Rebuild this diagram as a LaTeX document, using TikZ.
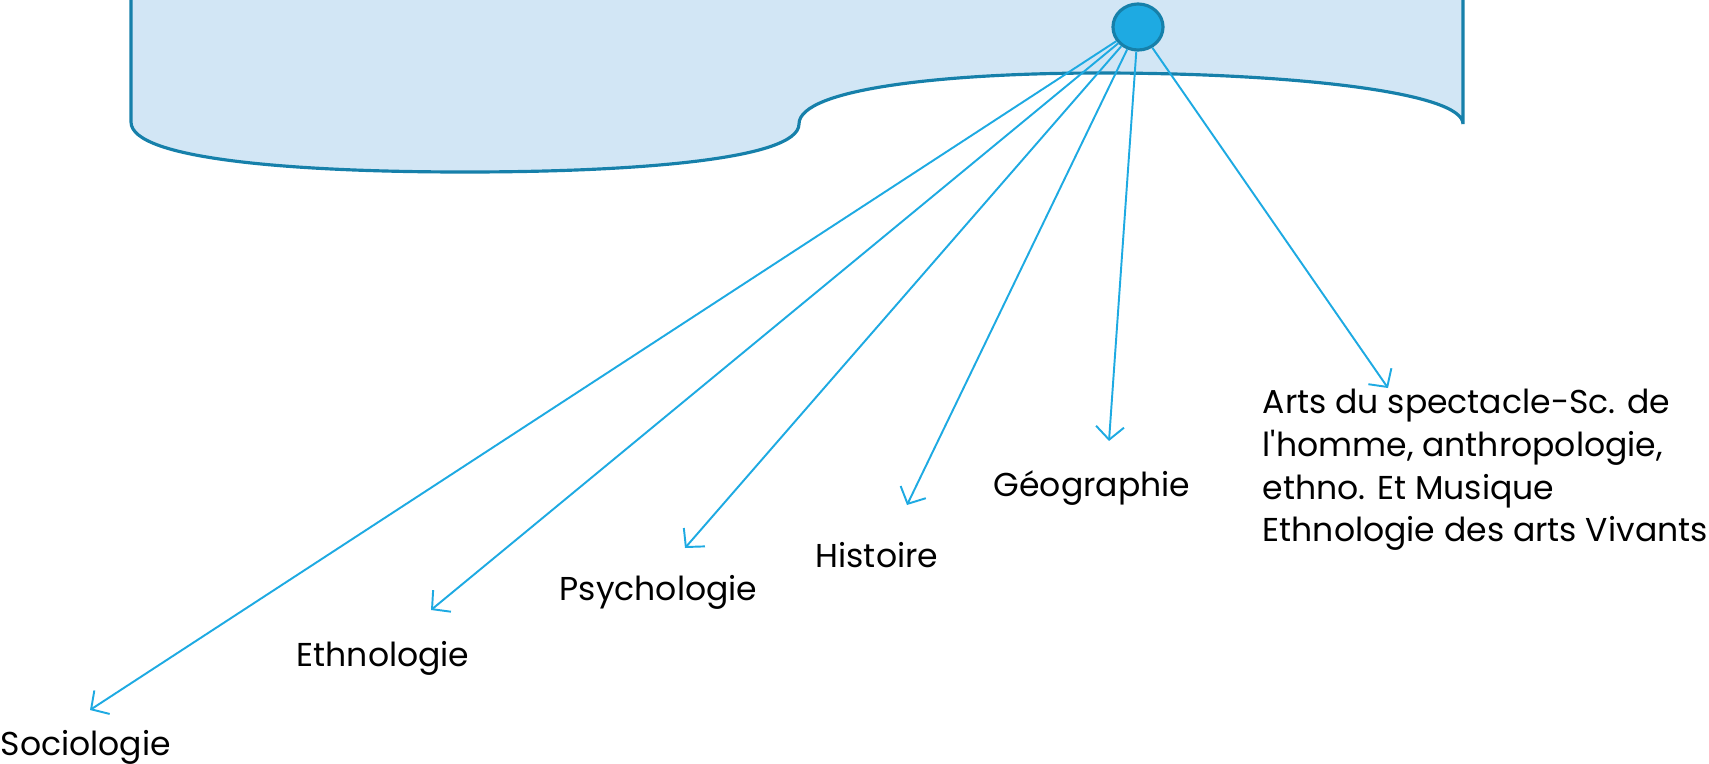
\documentclass[tikz,border=0pt]{standalone}
\usepackage{fontspec}
\setmainfont{Poppins}[Ligatures=TeXOff]
\usetikzlibrary{arrows.meta,positioning,shapes.geometric}
\definecolor{scrollfill}{RGB}{210,230,245}
\definecolor{scrolldraw}{RGB}{22,128,170}
\definecolor{linkblue}{RGB}{30,170,226}

\begin{document}
\begin{tikzpicture}[x=0.01cm,y=-0.01cm,
    field/.style={anchor=west, inner sep=0pt, font=\fontsize{9.4}{12.1}\selectfont},
    link/.style={-{Straight Barb[length=1.3mm,width=2.8mm]}, linkblue, line width=0.55pt}]
\useasboundingbox (0,0) rectangle (1709,763);
\filldraw[fill=scrollfill, draw=scrolldraw, line width=0.9pt]
    (131,-10) -- (131,122) .. controls (131,160) and (300,172) .. (465,172)
    .. controls (630,172) and (799,160) .. (799,124)
    .. controls (799,88) and (950,73) .. (1100,73)
    .. controls (1290,73) and (1463,92) .. (1463,124) -- (1463,-10) -- cycle;
\node[ellipse, draw=scrolldraw, fill=linkblue, line width=0.9pt, inner sep=0pt,
    minimum width=0.5cm, minimum height=0.46cm] (hub) at (1138,27) {};

\coordinate (socio tip) at (90,710);
\coordinate (ethno tip) at (431,610);
\coordinate (psycho tip) at (685,548);
\coordinate (histo tip) at (907,505);
\coordinate (geo tip) at (1109,441);
\coordinate (arts tip) at (1388,388);

\node[field] (socio) at (0,747) {Sociologie};
\node[field] (ethno) at (296,658) {Ethnologie};
\node[field] (psycho) at (559,592) {Psychologie};
\node[field] (histo) at (815,555) {Histoire};
\node[field] (geo) at (993,488) {Géographie};
\node[field, align=left] (arts) at (1262,470) {Arts du spectacle-Sc. de\\
    l'homme, anthropologie,\\ ethno. Et Musique\\ Ethnologie des arts Vivants};

\foreach \t in {socio,ethno,psycho,histo,geo,arts}
    \draw[link] (hub) -- (\t\space tip);
\end{tikzpicture}
\end{document}
